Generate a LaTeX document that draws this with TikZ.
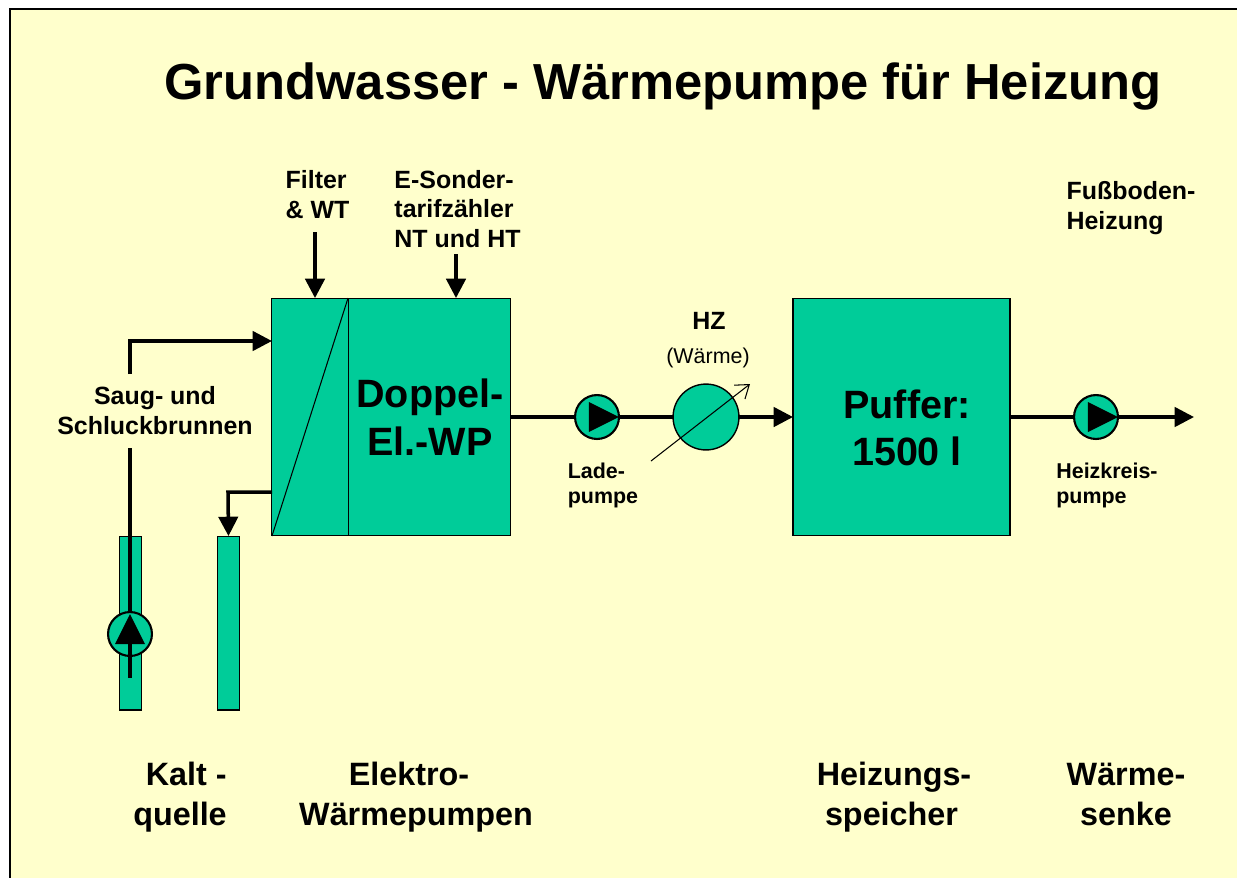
\documentclass[tikz,border=0pt]{standalone}
\usepackage{fontspec}
\setmainfont{Liberation Sans}
\usepackage{tikz}
\usetikzlibrary{arrows.meta, calc, positioning}
\definecolor{bggelb}{HTML}{FFFFCC}
\definecolor{anlage}{HTML}{00CC99}

\begin{document}
\begin{tikzpicture}[x=0.02cm, y=-0.02cm, >={Triangle[length=11pt, width=11pt]},
	box/.style={draw=black, fill=anlage, line width=0.6pt, inner sep=0pt, outer sep=0pt, align=center, font=\fontsize{22.5}{27}\bfseries\selectfont},
	pump/.style={circle, draw=black, fill=anlage, line width=1.2pt, minimum size=25pt, inner sep=0pt, outer sep=0pt},
	pipe/.style={line width=2pt},
	tiny/.style={align=left, inner sep=0pt, font=\fontsize{12.2}{14.2}\bfseries\selectfont},
	small/.style={align=center, inner sep=0pt, font=\fontsize{14.2}{17}\bfseries\selectfont},
	big/.style={align=center, inner sep=0pt, font=\fontsize{18.4}{22.8}\bfseries\selectfont}]
	\useasboundingbox (0,0) rectangle (1237,877);
	\draw[fill=bggelb, line width=0.9pt] (10,9) rectangle (1260,900);

	\node[inner sep=0pt, font=\fontsize{28.85}{34}\bfseries\selectfont] (titel) at (663,86) {Grundwasser - Wärmepumpe für Heizung};

	\node[box, minimum width=43.3pt, minimum height=135.4pt] (filter) at (310,417) {};
	\node[box, minimum width=92.7pt, minimum height=135.4pt, right=0pt of filter] (wp) {};
	\node[box, minimum width=123.5pt, minimum height=135.4pt] (puffer) at (901.5,417) {};
	\node[box, minimum width=13pt, minimum height=99pt] (brunnena) at (130.5,623) {};
	\node[box, minimum width=13pt, minimum height=99pt] (brunnenb) at (228.5,623) {};
	\draw[line width=0.6pt] (filter.south west) -- (filter.north east);

	\node[box, draw=none, fill=none] (wptext) at (430,417) {Doppel-\\El.-WP};
	\node[box, draw=none, fill=none] (puffertext) at (907,428) {Puffer:\\1500 l};

	\coordinate (saugoben) at (130,374);
	\coordinate (saugknick) at (130,341);
	\coordinate (sauganfang) at (130,448);
	\coordinate (saugende) at (130,678);
	\coordinate (rueckstart) at (272,492);
	\coordinate (rueckknick) at (228,492);
	\coordinate (filterpfeil) at (315,232);
	\coordinate (zaehlerpfeil) at (456,254);
	\coordinate (ausgang) at (1194,417);

	\draw[pipe] (sauganfang) -- (saugende);
	\draw[pipe, ->] (saugoben) -- (saugknick) -- (filter.west |- saugknick);
	\draw[pipe, ->] (rueckstart) -- (rueckknick) -- (brunnenb.north);
	\draw[pipe, ->] (filterpfeil) -- (filterpfeil |- filter.north);
	\draw[pipe, ->] (zaehlerpfeil) -- (zaehlerpfeil |- wp.north);

	\node[pump] (pumpea) at (130,634) {};
	\node[pump] (ladepumpe) at (597,417) {};
	\node[pump, minimum size=37.5pt, line width=0.8pt] (hz) at (706,417) {};
	\node[pump] (heizpumpe) at (1096,417) {};

	\draw[pipe] (wp.east |- ladepumpe) -- (ladepumpe);
	\draw[pipe] (ladepumpe) -- (hz);
	\draw[pipe, ->] (hz) -- (puffer.west |- hz);
	\draw[pipe] (puffer.east |- heizpumpe) -- (heizpumpe);
	\draw[pipe, ->] (heizpumpe) -- (ausgang);

	\fill (pumpea.north) ++(0,2) -- ++(-15,30) -- ++(30,0) -- cycle;
	\draw[pipe] ($(pumpea.north)+(0,20)$) -- (saugende);
	\fill (ladepumpe.east) -- ++(-30,-15) -- ++(0,30) -- cycle;
	\fill (heizpumpe.east) -- ++(-30,-15) -- ++(0,30) -- cycle;

	\coordinate (hzstart) at (651,461);
	\coordinate (hzende) at (750,384);
	\draw[line width=0.6pt, -{Straight Barb[length=7pt, width=10pt]}] (hzstart) -- (hzende);

	\node[small] (saugtext) at (155,411) {Saug- und\\Schluckbrunnen};
	\node[small, align=left] (filtertext) at (317.5,195) {Filter\\\& WT};
	\node[small, align=left] (zaehlertext) at (457.5,209) {E-Sonder-\\tarifzähler\\NT und HT};
	\node[small, align=left] (fbtext) at (1131,208) {Fußboden-\\Heizung};
	\node[small] (hztext) at (709,321) {HZ};
	\node[inner sep=0pt, font=\fontsize{12.2}{14}\selectfont] (waerme) at (708,358) {(Wärme)};
	\node[tiny] (ladetext) at (603,485) {Lade-\\pumpe};
	\node[tiny] (heiztext) at (1107,485) {Heizkreis-\\pumpe};

	\node[big, align=right] (kalt) at (180,797) {Kalt -\\quelle};
	\node[big] (elektro) at (416,797) {Elektro-\hspace*{0.28cm}\\Wärmepumpen};
	\node[big] (speicher) at (894,797) {Heizungs-\\speicher\hspace*{0.1cm}};
	\node[big] (senke) at (1126,794) {Wärme-\\senke};
\end{tikzpicture}
\end{document}
